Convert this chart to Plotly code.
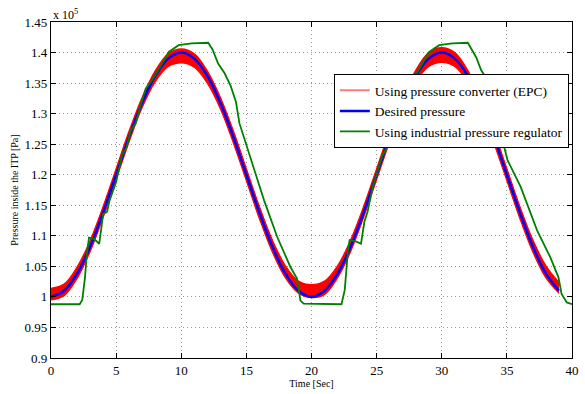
import plotly.graph_objects as go

# ---- data (pressure in units of 1e5 Pa) ----
t_desired = list(range(0, 40))
p_desired = [1.000, 1.010, 1.038, 1.082, 1.138, 1.200, 1.262, 1.318, 1.362, 1.390,
             1.400, 1.390, 1.362, 1.318, 1.262, 1.200, 1.138, 1.082, 1.038, 1.010,
             1.000, 1.010, 1.038, 1.082, 1.138, 1.200, 1.262, 1.318, 1.362, 1.390,
             1.400, 1.390, 1.362, 1.318, 1.262, 1.200, 1.138, 1.082, 1.038, 1.010]

# EPC measured pressure: noisy band (lower / upper envelope)
epc_lower = [0.995, 1.002, 1.030, 1.074, 1.130, 1.192, 1.254, 1.310, 1.352, 1.377,
             1.383, 1.376, 1.350, 1.308, 1.252, 1.190, 1.128, 1.073, 1.031, 1.006,
             0.999, 1.004, 1.031, 1.074, 1.130, 1.192, 1.254, 1.310, 1.352, 1.377,
             1.384, 1.377, 1.351, 1.308, 1.252, 1.190, 1.128, 1.073, 1.031, 1.006]
epc_upper = [1.014, 1.021, 1.049, 1.092, 1.148, 1.210, 1.272, 1.327, 1.370, 1.398,
             1.406, 1.398, 1.370, 1.327, 1.272, 1.210, 1.148, 1.093, 1.051, 1.026,
             1.020, 1.026, 1.051, 1.093, 1.148, 1.210, 1.272, 1.328, 1.371, 1.400,
             1.408, 1.400, 1.371, 1.328, 1.272, 1.210, 1.148, 1.093, 1.051, 1.024]

# Industrial pressure regulator
t_reg = [0, 2.2, 2.4, 2.6, 2.75, 2.92, 3.3, 3.7, 3.85, 4.0, 4.3, 4.5, 5.0, 5.45, 5.8,
         6.13, 6.5, 6.77, 7.27, 7.77, 8.4, 9.04, 9.8, 10.8, 12.07, 12.4, 12.83, 13.33,
         13.8, 14.2, 14.47, 15.35, 16.36, 17.37, 18.38, 18.89, 19.05, 19.15, 19.4,
         22.3, 22.55, 22.8, 22.93, 23.4, 23.8, 24.06, 24.3, 24.7, 25.45, 25.8, 26.13,
         26.5, 26.77, 27.27, 27.77, 28.4, 29.04, 29.8, 30.8, 32.0, 32.3, 32.65, 33.03,
         33.3, 33.8, 34.1, 34.5, 35.05, 36.06, 37.32, 38.33, 38.96, 39.2, 39.6, 40.0]
p_reg = [0.988, 0.988, 0.995, 1.030, 1.070, 1.097, 1.095, 1.087, 1.110, 1.136, 1.139,
         1.158, 1.188, 1.232, 1.245, 1.273, 1.284, 1.306, 1.341, 1.355, 1.377, 1.401,
         1.412, 1.415, 1.416, 1.405, 1.382, 1.366, 1.345, 1.319, 1.284, 1.224, 1.158,
         1.098, 1.049, 1.030, 1.010, 0.994, 0.989, 0.988, 1.011, 1.076, 1.093, 1.091,
         1.087, 1.123, 1.139, 1.180, 1.232, 1.245, 1.273, 1.284, 1.306, 1.341, 1.355,
         1.377, 1.401, 1.412, 1.415, 1.416, 1.405, 1.392, 1.371, 1.362, 1.335, 1.310,
         1.270, 1.224, 1.180, 1.109, 1.065, 1.032, 1.005, 0.991, 0.988]

y_ticks = [0.9, 0.95, 1.0, 1.05, 1.1, 1.15, 1.2, 1.25, 1.3, 1.35, 1.4, 1.45]
y_tick_text = ["0.9", "0.95", "1", "1.05", "1.1", "1.15", "1.2", "1.25", "1.3", "1.35", "1.4", "1.45"]
x_ticks = [0, 5, 10, 15, 20, 25, 30, 35, 40]

FONT = "Liberation Serif, Times New Roman, serif"

fig = go.Figure()
fig.add_trace(go.Scatter(x=t_desired, y=epc_lower, mode="lines", line=dict(color="#ff0000", width=1.2, shape="spline"),
                         showlegend=False, hoverinfo="skip"))
fig.add_trace(go.Scatter(x=t_desired, y=epc_upper, mode="lines", line=dict(color="#ff0000", width=1.2, shape="spline"),
                         fill="tonexty", fillcolor="#ff0000", showlegend=False, hoverinfo="skip"))
fig.add_trace(go.Scatter(x=[None], y=[None], mode="lines", line=dict(color="#ff7b7b", width=2),
                         name="Using pressure converter (EPC)"))
fig.add_trace(go.Scatter(x=t_desired, y=p_desired, mode="lines", line=dict(color="#0000ff", width=2.5, shape="spline"),
                         name="Desired pressure"))
fig.add_trace(go.Scatter(x=t_reg, y=p_reg, mode="lines", line=dict(color="#008000", width=1.8),
                         name="Using industrial pressure regulator"))

axis_common = dict(showline=True, linecolor="black", linewidth=1.3, mirror="ticks", ticks="inside",
                   ticklen=5, tickcolor="black", showgrid=True, gridcolor="#999999", griddash="1px,3px",
                   gridwidth=1, zeroline=False, tickfont=dict(family=FONT, size=13, color="black"))

fig.update_xaxes(range=[0, 40], tickvals=x_ticks, ticklabeloverflow="allow", **axis_common,
                 title=dict(text="Time [Sec]", font=dict(family=FONT, size=10, color="black"), standoff=2))
fig.update_yaxes(range=[0.9, 1.45], tickvals=y_ticks, ticktext=y_tick_text, **axis_common,
                 title=dict(text="Pressure inside the ITP [Pa]", font=dict(family=FONT, size=10, color="black"), standoff=4))

fig.add_annotation(xref="paper", yref="paper", x=0, y=1.0, xanchor="left", yanchor="bottom",
                   text="x 10<sup>5</sup>", showarrow=False, font=dict(family=FONT, size=12, color="black"), yshift=-2)

fig.update_layout(
    width=585, height=394,
    margin=dict(l=51, r=6, t=22, b=36),
    paper_bgcolor="white", plot_bgcolor="white",
    font=dict(family=FONT, size=11, color="black"),
    legend=dict(x=0.994, y=0.845, xanchor="right", yanchor="top", bgcolor="white",
                bordercolor="black", borderwidth=1, font=dict(family=FONT, size=13.5),
                tracegroupgap=0, itemwidth=30, traceorder="normal"),
)

fig.write_html("out.html")
